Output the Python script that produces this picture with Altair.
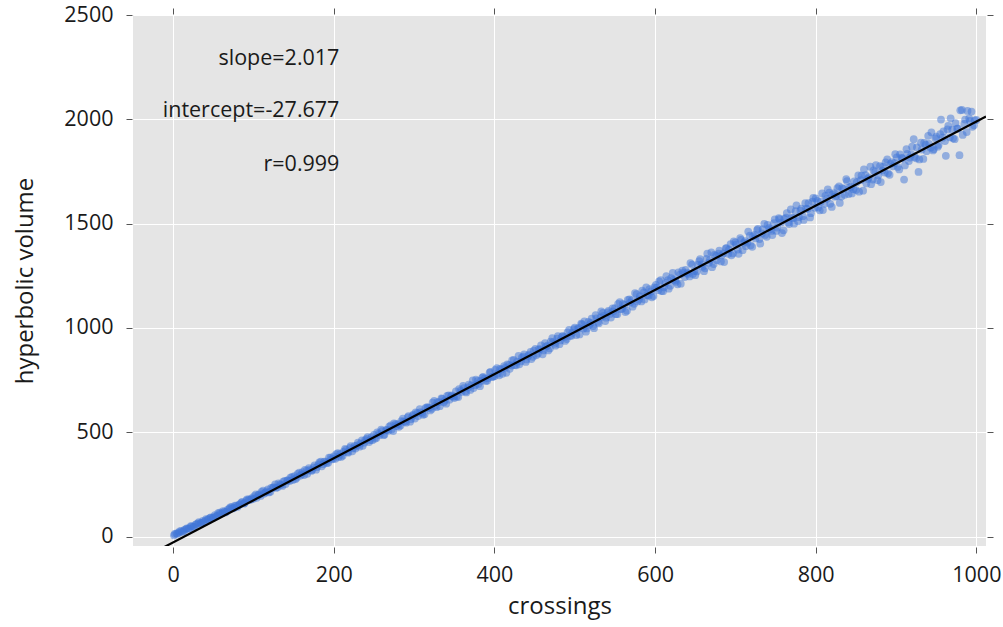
import altair as alt
import pandas as pd

crossings = [
    1, 4, 7, 10, 13, 16, 19, 22, 25, 28, 31, 34, 37, 40, 43, 46, 49,
    52, 55, 58, 61, 64, 67, 70, 73, 76, 79, 82, 85, 88, 91, 94, 97,
    100, 103, 106, 109, 112, 115, 118, 121, 124, 127, 130, 133, 136, 139, 142, 145, 148,
    151, 154, 157, 160, 163, 166, 169, 172, 175, 178, 181, 184, 187, 190, 193, 196, 199,
    202, 205, 208, 211, 214, 217, 220, 223, 226, 229, 232, 235, 238, 241, 244, 247,
    250, 253, 256, 259, 262, 265, 268, 271, 274, 277, 280, 283, 286, 289, 292, 295, 298,
    301, 304, 307, 310, 313, 316, 319, 322, 325, 328, 331, 334, 337, 340, 343, 346, 349,
    352, 355, 358, 361, 364, 367, 370, 373, 376, 379, 382, 385, 388, 391, 394, 397,
    400, 403, 406, 409, 412, 415, 418, 421, 424, 427, 430, 433, 436, 439, 442, 445, 448,
    451, 454, 457, 460, 463, 466, 469, 472, 475, 478, 481, 484, 487, 490, 493, 496, 499,
    502, 505, 508, 511, 514, 517, 520, 523, 526, 529, 532, 535, 538, 541, 544, 547,
    550, 553, 556, 559, 562, 565, 568, 571, 574, 577, 580, 583, 586, 589, 592, 595, 598,
    601, 604, 607, 610, 613, 616, 619, 622, 625, 628, 631, 634, 637, 640, 643, 646, 649,
    652, 655, 658, 661, 664, 667, 670, 673, 676, 679, 682, 685, 688, 691, 694, 697,
    700, 703, 706, 709, 712, 715, 718, 721, 724, 727, 730, 733, 736, 739, 742, 745, 748,
    751, 754, 757, 760, 763, 766, 769, 772, 775, 778, 781, 784, 787, 790, 793, 796, 799,
    802, 805, 808, 811, 814, 817, 820, 823, 826, 829, 832, 835, 838, 841, 844, 847,
    850, 853, 856, 859, 862, 865, 868, 871, 874, 877, 880, 883, 886, 889, 892, 895, 898,
    901, 904, 907, 910, 913, 916, 919, 922, 925, 928, 931, 934, 937, 940, 943, 946, 949,
    952, 955, 958, 961, 964, 967, 970, 973, 976, 979, 982, 985, 988, 991, 994, 997, 1000,
    503, 506, 509, 512, 515, 518, 521, 524, 527, 530, 533, 536, 539, 542, 545, 548,
    551, 554, 557, 560, 563, 566, 569, 572, 575, 578, 581, 584, 587, 590, 593, 596, 599,
    602, 605, 608, 611, 614, 617, 620, 623, 626, 629, 632, 635, 638, 641, 644, 647,
    650, 653, 656, 659, 662, 665, 668, 671, 674, 677, 680, 683, 686, 689, 692, 695, 698,
    701, 704, 707, 710, 713, 716, 719, 722, 725, 728, 731, 734, 737, 740, 743, 746, 749,
    752, 755, 758, 761, 764, 767, 770, 773, 776, 779, 782, 785, 788, 791, 794, 797,
    800, 803, 806, 809, 812, 815, 818, 821, 824, 827, 830, 833, 836, 839, 842, 845, 848,
    851, 854, 857, 860, 863, 866, 869, 872, 875, 878, 881, 884, 887, 890, 893, 896, 899,
    902, 905, 908, 911, 914, 917, 920, 923, 926, 929, 932, 935, 938, 941, 944, 947,
    950, 953, 956, 959, 962, 965, 968, 971, 974, 977, 980, 983, 986, 989, 992, 995, 998,
    2, 5, 8, 11, 14, 17, 20, 23, 26, 29, 32, 35, 38, 41, 44, 47, 50,
    53, 56, 59, 62, 65, 68, 71, 74, 77, 80, 83, 86, 89, 92, 95, 98,
    101, 104, 107, 110, 113, 116, 119, 122, 125, 128, 131, 134, 137, 140, 143, 146, 149,
    152, 155, 158, 161, 164, 167, 170, 173, 176, 179, 182, 185, 188, 191, 194, 197, 200,
    203, 206, 209, 212, 215, 218, 221, 224, 227, 230, 233, 236, 239, 242, 245, 248,
    251, 254, 257, 260, 263, 266, 269, 272, 275, 278, 281, 284, 287, 290, 293, 296, 299,
    302, 305, 308, 311, 314, 317, 320, 323, 326, 329, 332, 335, 338, 341, 344, 347, 350,
    353, 356, 359, 362, 365, 368, 371, 374, 377, 380, 383, 386, 389, 392, 395, 398,
    401, 404, 407, 410, 413, 416, 419, 422, 425, 428, 431, 434, 437, 440, 443, 446, 449,
    452, 455, 458, 461, 464, 467, 470, 473, 476, 479, 482, 485, 488, 491, 494, 497, 500,
]

volume = [
    6, 16, 18, 28, 26, 36, 39, 50, 48, 57, 64, 64, 76, 74, 83, 90, 89,
    103, 101, 115, 113, 121, 121, 134, 143, 138, 149, 152, 163, 158, 172, 179, 178,
    181, 202, 199, 195, 220, 211, 226, 215, 234, 250, 236, 250, 243, 267, 270, 266, 286,
    290, 282, 307, 298, 295, 316, 328, 315, 332, 321, 346, 360, 347, 360, 354, 378, 372,
    373, 400, 396, 388, 421, 406, 425, 409, 435, 437, 431, 461, 450, 469, 453, 477,
    488, 473, 494, 513, 487, 510, 507, 533, 506, 539, 539, 532, 565, 550, 571, 551, 579,
    566, 592, 611, 593, 586, 621, 618, 612, 650, 620, 645, 662, 644, 637, 677, 673, 670,
    696, 669, 700, 722, 696, 715, 703, 749, 726, 747, 721, 762, 758, 747, 786, 765,
    769, 807, 773, 802, 817, 785, 823, 819, 847, 821, 866, 840, 863, 837, 866, 886, 862,
    900, 877, 899, 874, 927, 915, 902, 951, 924, 949, 922, 957, 957, 947, 991, 963, 995,
    966, 1001, 1021, 997, 982, 1029, 1024, 1009, 1062, 1029, 1051, 1072, 1033, 1075, 1067, 1094,
    1095, 1066, 1124, 1092, 1111, 1083, 1137, 1134, 1116, 1162, 1137, 1127, 1170, 1194, 1155, 1175, 1153,
    1206, 1181, 1229, 1176, 1215, 1229, 1202, 1264, 1228, 1209, 1256, 1275, 1244, 1265, 1247, 1304, 1273,
    1271, 1320, 1305, 1272, 1331, 1312, 1362, 1306, 1346, 1356, 1319, 1357, 1382, 1355, 1402, 1357,
    1410, 1376, 1431, 1373, 1416, 1409, 1442, 1389, 1446, 1469, 1426, 1453, 1499, 1437, 1480, 1465, 1503,
    1465, 1527, 1505, 1468, 1529, 1506, 1568, 1526, 1560, 1512, 1562, 1536, 1598, 1571, 1530, 1605, 1576,
    1609, 1564, 1645, 1595, 1619, 1649, 1580, 1646, 1632, 1679, 1630, 1667, 1713, 1642, 1677, 1665,
    1661, 1731, 1708, 1658, 1732, 1714, 1773, 1711, 1747, 1708, 1776, 1755, 1745, 1808, 1734, 1795, 1790,
    1818, 1760, 1815, 1711, 1857, 1800, 1832, 1905, 1813, 1748, 1888, 1810, 1879, 1921, 1864, 1851, 1909,
    1869, 1929, 1912, 1896, 1952, 1914, 1951, 1905, 1955, 1828, 2045, 1978, 1939, 2004, 2037, 1971, 1997,
    995, 969, 1017, 1032, 998, 1014, 1045, 999, 1046, 1023, 1079, 1058, 1049, 1082, 1050, 1080,
    1066, 1116, 1090, 1115, 1076, 1135, 1122, 1102, 1167, 1127, 1152, 1179, 1137, 1157, 1186, 1147, 1195,
    1193, 1223, 1177, 1195, 1248, 1188, 1239, 1232, 1221, 1267, 1212, 1264, 1278, 1259, 1311, 1259,
    1253, 1302, 1330, 1294, 1286, 1356, 1325, 1291, 1350, 1325, 1371, 1348, 1316, 1383, 1376, 1348, 1415,
    1400, 1355, 1422, 1407, 1392, 1462, 1396, 1439, 1429, 1475, 1404, 1472, 1446, 1494, 1473, 1445, 1521,
    1481, 1522, 1455, 1523, 1551, 1498, 1528, 1500, 1588, 1531, 1572, 1518, 1572, 1598, 1550, 1623,
    1621, 1577, 1604, 1565, 1633, 1664, 1595, 1639, 1629, 1670, 1599, 1670, 1638, 1704, 1674, 1645, 1703,
    1698, 1653, 1730, 1760, 1693, 1722, 1689, 1755, 1781, 1732, 1699, 1773, 1794, 1741, 1786, 1775, 1833,
    1772, 1832, 1813, 1779, 1834, 1816, 1869, 1820, 1865, 1808, 1855, 1887, 1847, 1882, 1938, 1857,
    1917, 1877, 1999, 1942, 1825, 1969, 2005, 1909, 1982, 1955, 2043, 1925, 1999, 2040, 1993, 1964, 1995,
    13, 13, 25, 22, 32, 40, 38, 49, 47, 60, 69, 66, 69, 84, 83, 92, 92,
    96, 112, 109, 122, 116, 129, 140, 135, 148, 142, 156, 166, 161, 179, 175, 185,
    194, 186, 202, 214, 206, 217, 212, 234, 237, 233, 255, 247, 264, 252, 269, 283, 271,
    275, 301, 292, 309, 320, 301, 321, 319, 341, 333, 356, 337, 359, 352, 378, 370, 385,
    395, 382, 382, 406, 416, 402, 434, 423, 422, 450, 446, 435, 463, 477, 462, 462,
    469, 499, 486, 505, 488, 512, 527, 513, 543, 530, 526, 554, 552, 546, 578, 563, 585,
    596, 578, 597, 584, 616, 618, 605, 642, 626, 644, 625, 660, 652, 674, 656, 677, 664,
    672, 707, 693, 712, 691, 728, 725, 712, 752, 732, 746, 766, 746, 759, 789, 766,
    799, 781, 804, 780, 809, 825, 804, 845, 822, 838, 826, 858, 873, 849, 872, 851, 891,
    869, 898, 916, 892, 911, 892, 934, 932, 915, 961, 940, 962, 938, 979, 961, 977, 1002,
]

slope = 2.017
intercept = -27.677
r_value = 0.999

line_x = [-50, 1012]
x_ticks = [0, 200, 400, 600, 800, 1000]
y_ticks = [0, 500, 1000, 1500, 2000, 2500]
x_domain = [-50, 1012]
y_domain = [-45, 2500]

note_text = ["slope=2.017", "intercept=-27.677", "r=0.999"]
note_x = [207, 207, 207]
note_y = [2288, 2039, 1780]

FONT = "Open Sans"

pts = pd.DataFrame({"crossings": crossings, "volume": volume})
line_df = pd.DataFrame({"x": line_x})
notes = pd.DataFrame({"t": note_text, "x": note_x, "y": note_y})

xscale = alt.Scale(domain=x_domain, nice=False, zero=False)
yscale = alt.Scale(domain=y_domain, nice=False, zero=False)

common_axis = dict(
    domain=False, tickColor="#555555", tickSize=6, tickWidth=1, offset=1, format="d",
    labelFont=FONT, labelFontSize=21.5, labelColor="#1a1a1a",
    titleFont=FONT, titleFontSize=24, titleColor="#1a1a1a", titleFontWeight="normal",
    gridColor="#ffffff", gridWidth=1,
)

points = alt.Chart(pts).mark_circle(size=60, color="#3f76d8", opacity=0.5).encode(
    x=alt.X("crossings:Q", scale=xscale,
            axis=alt.Axis(values=x_ticks, title="crossings", grid=True,
                          labelPadding=11, titlePadding=9, **common_axis)),
    y=alt.Y("volume:Q", scale=yscale,
            axis=alt.Axis(values=y_ticks, title="hyperbolic volume", grid=True,
                          labelPadding=13, titlePadding=26, **common_axis)),
)

reg = alt.Chart(line_df).mark_line(color="#000000", strokeWidth=2.2, clip=True).transform_calculate(
    y=f"{slope} * datum.x + ({intercept})"
).encode(
    x=alt.X("x:Q", scale=xscale, axis=None),
    y=alt.Y("y:Q", scale=yscale, axis=None),
)

text = alt.Chart(notes).mark_text(
    align="right", baseline="middle", font=FONT, fontSize=21.5, color="#1a1a1a"
).encode(
    x=alt.X("x:Q", scale=xscale, axis=None),
    y=alt.Y("y:Q", scale=yscale, axis=None),
    text="t:N",
)

mirror = alt.Chart(line_df).mark_point(opacity=0).transform_calculate(
    y=f"{slope} * datum.x + ({intercept})"
).encode(
    x=alt.X("x:Q", scale=xscale,
            axis=alt.Axis(orient="top", values=x_ticks, labels=False, title=None, grid=False,
                          domain=False, tickColor="#555555", tickSize=6, offset=1)),
    y=alt.Y("y:Q", scale=yscale,
            axis=alt.Axis(orient="right", values=y_ticks, labels=False, title=None, grid=False,
                          domain=False, tickColor="#555555", tickSize=6, offset=1)),
)

chart = alt.layer(points, reg, text, mirror).resolve_axis(
    x="independent", y="independent"
).properties(
    width=853, height=531,
    autosize=alt.AutoSizeParams(type="none"),
    padding={"left": 133, "top": 15, "right": 17, "bottom": 81},
    background="#ffffff",
).configure_view(fill="#e5e5e5", strokeWidth=0)

chart.save("out.html", embed_options={"renderer": "svg", "actions": False})
